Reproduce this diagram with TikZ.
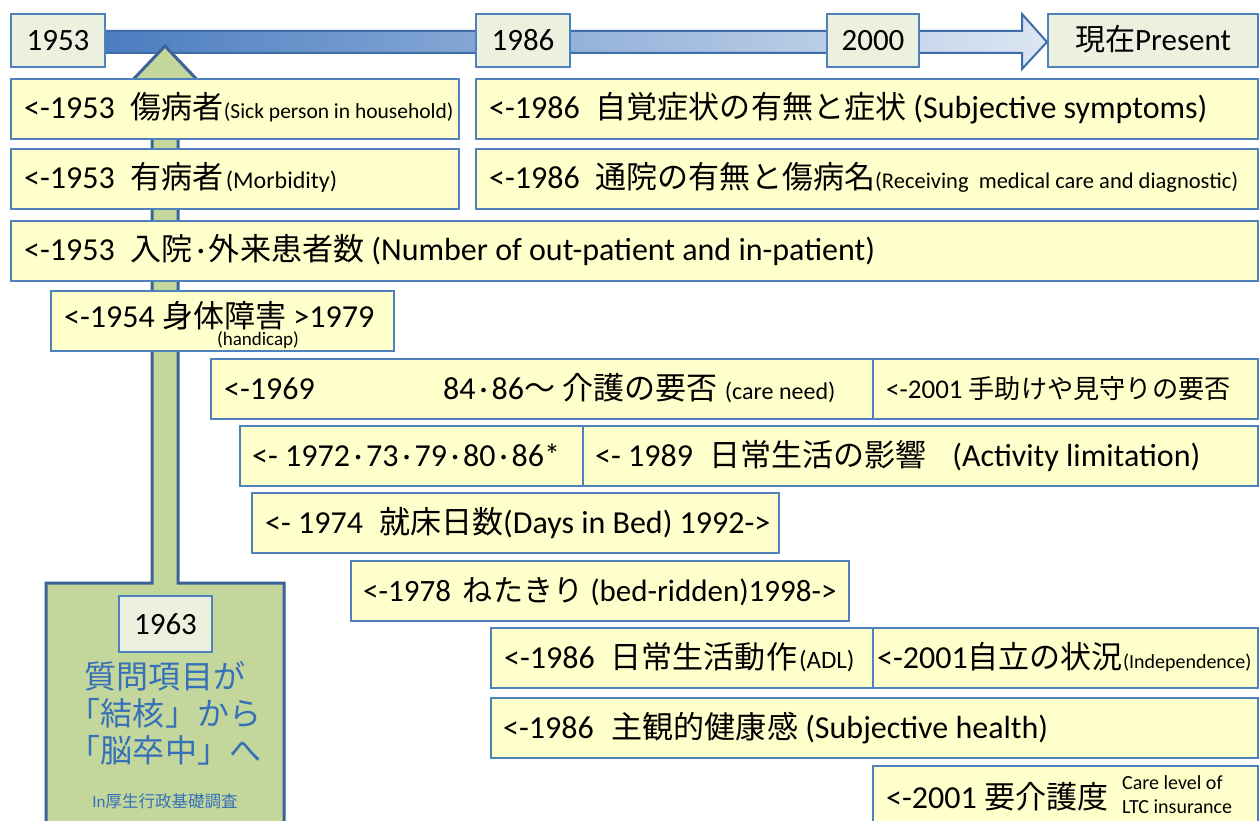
\documentclass[tikz,border=0pt]{standalone}
\usepackage{fontspec}
\setmainfont{Carlito}
\newfontfamily\jp[Scale=0.97]{Noto Sans CJK JP}
\newcommand{\jt}[1]{{\jp #1}}
\newcommand{\fsz}[1]{\fontsize{#1}{#1}\selectfont}
\newcommand{\jdot}{\kern4pt·\kern4pt}
\definecolor{bblue}{HTML}{4F81BD}
\definecolor{yfill}{HTML}{FFFFCC}
\definecolor{yrfill}{HTML}{EBF1DE}
\definecolor{gfill}{HTML}{C3D69B}
\definecolor{gline}{HTML}{3B6396}
\definecolor{barL}{HTML}{4A7CC0}
\definecolor{barM}{HTML}{B5C8E3}
\definecolor{barR}{HTML}{DCE6F2}
\definecolor{barB}{HTML}{3F6DAA}
\definecolor{gtext}{HTML}{3570B8}
\begin{document}
\begin{tikzpicture}[x=1pt,y=-1pt,
 ybox/.style={draw=bblue,fill=yfill,line width=2pt,rectangle,anchor=north west,inner sep=0pt,minimum height=60pt},
 yrbox/.style={draw=bblue,fill=yrfill,line width=2pt,rectangle,anchor=north west,inner sep=0pt,minimum height=53pt,minimum width=94pt,text height=20pt,text depth=0pt,font=\fsz{31}},
 txt/.style={anchor=base west,inner sep=0pt,font=\fsz{32}},
]
\useasboundingbox (0,0) rectangle (1259,821);
\clip (0,0) rectangle (1259,821);
\fill[white] (0,0) rectangle (1259,821);
% timeline bar
\shade[left color=barL, middle color=barM, right color=barR, draw=barB, line width=2pt]
  (96,31) -- (1022,31) -- (1022,14) -- (1047,42) -- (1022,69) -- (1022,53) -- (96,53) -- cycle;
% green up-arrow callout
\filldraw[fill=gfill, draw=gline, line width=3pt, line join=miter]
  (165,46) -- (203,86) -- (178,86) -- (178,583) -- (284,583) -- (284,840) -- (46,840) -- (46,583) -- (152,583) -- (152,86) -- (127,86) -- cycle;
% year boxes
\node[yrbox] (b53) at (10,13) {1953};
\node[yrbox] (b86) at (475,13) {1986};
\node[yrbox,minimum width=92pt] (b00) at (826,13) {2000};
\node[yrbox,minimum width=210pt] (bnow) at (1047,13) {\jt{現在}Present};
% item boxes
\node[ybox,minimum width=448pt] (b1a) at (10,78) {};
\node[ybox,minimum width=782pt] (b1b) at (475,78) {};
\node[ybox,minimum width=448pt] (b2a) at (10,148) {};
\node[ybox,minimum width=782pt] (b2b) at (475,148) {};
\node[ybox,minimum width=1247pt] (b3) at (10,220) {};
\node[ybox,minimum width=343pt] (b4) at (50,290) {};
\node[ybox,minimum width=662pt] (b5a) at (210,358) {};
\node[ybox,minimum width=385pt] (b5b) at (872,358) {};
\node[ybox,minimum width=343pt] (b6a) at (239,425) {};
\node[ybox,minimum width=675pt] (b6b) at (582,425) {};
\node[ybox,minimum width=527pt] (b7) at (251,492) {};
\node[ybox,minimum width=498pt] (b8) at (350,560) {};
\node[ybox,minimum width=382pt] (b9a) at (490,627) {};
\node[ybox,minimum width=385pt] (b9b) at (872,627) {};
\node[ybox,minimum width=767pt] (b10) at (490,697) {};
\node[ybox,minimum width=385pt,minimum height=75pt] (b11) at (872,765) {};
% texts
\node[txt] (t1a) at (24,119) {<-1953\hspace{16pt}\jt{傷病者}{\fsz{21.5}(Sick person in household)}};
\node[txt] (t1b) at (489,119) {<-1986\hspace{16pt}\jt{自覚症状の有無と症状} (Subjective symptoms)};
\node[txt] (t2a) at (24,189) {<-1953\hspace{16pt}\jt{有病者}{\fsz{24}\kern2pt(Morbidity)}};
\node[txt] (t2b) at (489,189) {<-1986\hspace{16pt}\jt{通院の有無と傷病名}{\fsz{22.5}(Receiving\ \ medical care and diagnostic)}};
\node[txt] (t3) at (24,261) {<-1953\hspace{16pt}\jt{入院}\jdot\jt{外来患者数} (Number of out-patient and in-patient)};
\node[txt] (t4) at (64,327) {<-1954 \jt{身体障害} >1979};
\node[anchor=base,inner sep=0pt,font=\fsz{19}] (t4b) at (258,345) {(handicap)};
\node[txt] (t5a) at (224,399) {<-1969};
\node[txt] (t5m) at (443,399) {84\jdot 86\jt{〜} \jt{介護の要否} {\fsz{24}(care need)}};
\node[txt,font=\fsz{27}] (t5b) at (886,398) {<-2001 \jt{手助けや見守りの要否}};
\node[txt] (t6a) at (252,466) {<- 1972\jdot 73\jdot 79\jdot 80\jdot 86*};
\node[txt] (t6b) at (595,466) {<- 1989\hspace{16pt}\jt{日常生活の影響}\hspace{26pt}(Activity limitation)};
\node[txt] (t7) at (265,533) {<- 1974\hspace{16pt}\jt{就床日数}(Days in Bed) 1992->};
\node[txt,font=\fsz{31}] (t8) at (363,601) {<-1978\hspace{12pt}\jt{ねたきり} (bed-ridden)1998->};
\node[txt] (t9a) at (504,668) {<-1986\hspace{16pt}\jt{日常生活動作}{\fsz{25}\kern2pt(ADL)}};
\node[txt] (t9b) at (877,668) {<-2001\jt{自立の状況}{\fsz{20}(Independence)}};
\node[txt] (t10) at (503,738) {<-1986\hspace{18pt}\jt{主観的健康感} (Subjective health)};
\node[txt] (t11) at (886,808) {<-2001 \jt{要介護度}};
\node[txt,font=\fsz{20}] (t11c) at (1122,789) {Care level of};
\node[txt,font=\fsz{20}] (t11d) at (1122,813) {LTC insurance};
% green callout contents
\node[yrbox,minimum width=93pt,minimum height=56pt] (b63) at (118,595) {1963};
\node[align=center,text=gtext,font=\fontsize{33}{37}\selectfont\jp,inner sep=0pt] (gq) at (165,713) {質問項目が\\「結核」から\\「脳卒中」へ};
\node[text=gtext,font=\fsz{17},inner sep=0pt] (gsrc) at (165,801) {In\jt{厚生行政基礎調査}};
\end{tikzpicture}
\end{document}
